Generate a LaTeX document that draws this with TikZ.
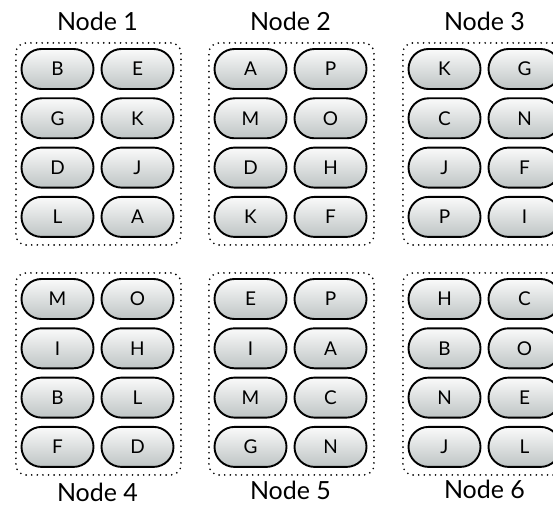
\documentclass[tikz,border=0pt]{standalone}
\usepackage{fontspec}
\setmainfont{Lato}
\usetikzlibrary{shapes.misc}
\newcommand\pillgroup[5]{%
  \node[groupbox, anchor=north west] (g#3) at (#1,#2) {};
  \foreach \t [count=\i from 0] in {#4} {
    \pgfmathtruncatemacro\r{int(\i/2)}
    \pgfmathtruncatemacro\c{mod(\i,2)}
    \node[pill] (p#3-\i) at ({#1+42.5+80*\c}, {#2+27+49.3*\r}) {\t};
  }
  \node[titletext] (t#3) at ({#1+82.5}, #5) {Node #3};
}
\begin{document}
\begin{tikzpicture}[x=1pt,y=-1pt,
  pill/.style={rounded rectangle, draw=black, line width=1.9pt,
    minimum width=72pt, minimum height=40pt, inner sep=0pt,
    top color=gray!4, bottom color=gray!42!cyan!90!black!100,
    bottom color={rgb,255:red,190;green,196;blue,196},
    font=\fontsize{19}{19}\selectfont},
  groupbox/.style={draw=black, line width=1.9pt, line cap=round,
    dash pattern=on 0pt off 5.6pt, rounded corners=10pt,
    minimum width=165pt, minimum height=202pt, inner sep=0pt},
  titletext/.style={font=\fontsize{25}{25}\selectfont, inner sep=0pt}]
\useasboundingbox (0,0) rectangle (553,513);
\pillgroup{15}{42}{1}{B,E,G,K,D,J,L,A}{21}
\pillgroup{208}{42}{2}{A,P,M,O,D,H,K,F}{21}
\pillgroup{402}{42}{3}{K,G,C,N,J,F,P,I}{21}
\pillgroup{15}{272}{4}{M,O,I,H,B,L,F,D}{492}
\pillgroup{208}{272}{5}{E,P,I,A,M,C,G,N}{490}
\pillgroup{402}{272}{6}{H,C,B,O,N,E,J,L}{489}
\end{tikzpicture}
\end{document}
